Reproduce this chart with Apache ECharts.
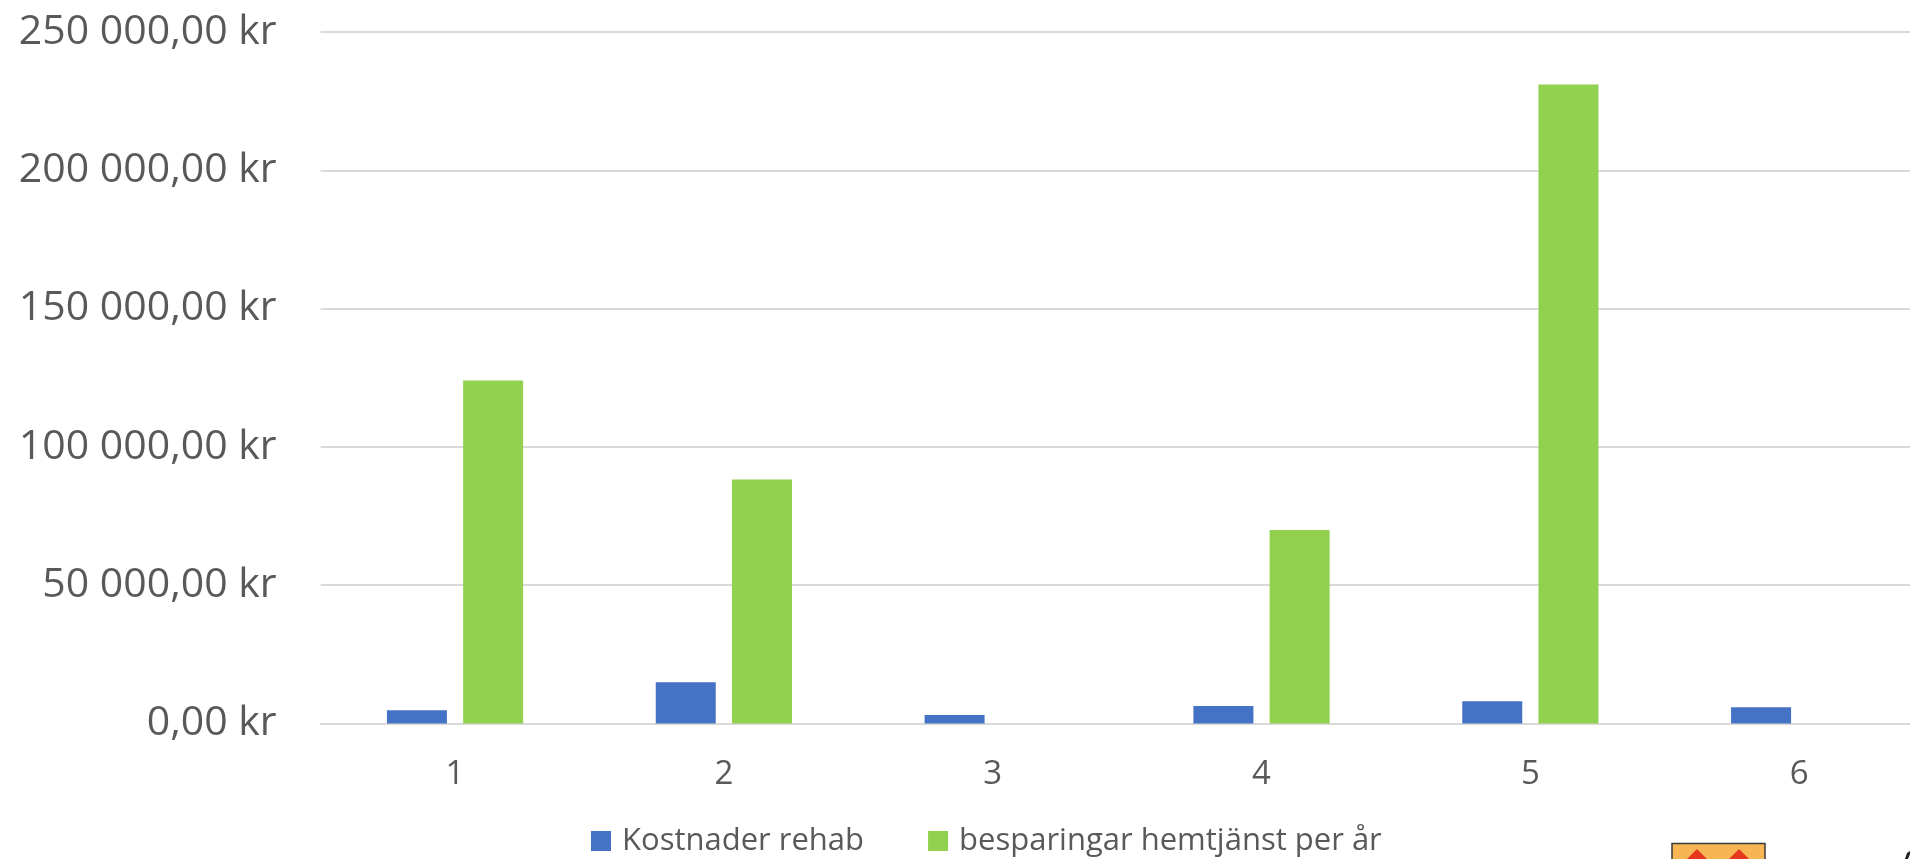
<!DOCTYPE html>
<html>
<head>
<meta charset="utf-8">
<style>
  html, body { margin: 0; padding: 0; background: #ffffff; }
  #chart { width: 1910px; height: 859px; }
</style>
<script src="https://cdn.jsdelivr.net/npm/echarts@6/dist/echarts.min.js"></script>
</head>
<body>
<div id="chart"></div>
<script>
// Data
const categories = ['1', '2', '3', '4', '5', '6'];
const kostnaderRehab = [4800, 14900, 3100, 6300, 8000, 5900];
const besparingarHemtjanst = [124000, 88200, 0, 70000, 231000, 0];
const seriesNames = ['Kostnader rehab', 'besparingar hemtjänst per år'];
const yTicks = { min: 0, max: 250000, interval: 50000 };

function formatKr(v) {
  const intPart = Math.round(v).toString().replace(/\B(?=(\d{3})+(?!\d))/g, ' ');
  return intPart + ',00 kr';
}

const chart = echarts.init(document.getElementById('chart'), null, { renderer: 'canvas' });
const FONT = '"Open Sans", "Noto Sans", sans-serif';

chart.setOption({
  animation: false,
  backgroundColor: '#ffffff',
  grid: { left: 320.6, width: 1613, top: 32, bottom: 135.5, containLabel: false, outerBoundsMode: 'none' },
  legend: {
    left: 591,
    top: 821,
    padding: 0,
    itemWidth: 20,
    itemHeight: 20,
    itemGap: 64,
    icon: 'rect',
    textStyle: { fontFamily: FONT, fontSize: 31, color: '#595959', padding: [0, 0, 0, 6], lineHeight: 40 },
    data: seriesNames
  },
  xAxis: {
    type: 'category',
    data: categories,
    axisLine: { show: true, lineStyle: { color: '#d9d9d9', width: 2 } },
    axisTick: { show: false },
    axisLabel: { fontFamily: FONT, fontSize: 33, color: '#595959', margin: 35 },
    splitLine: { show: false }
  },
  yAxis: {
    type: 'value',
    min: yTicks.min,
    max: yTicks.max,
    interval: yTicks.interval,
    axisLine: { show: false },
    axisTick: { show: false },
    axisLabel: { fontFamily: FONT, fontSize: 41, color: '#595959', margin: 44, formatter: formatKr },
    splitLine: { show: true, lineStyle: { color: '#d9d9d9', width: 2 } }
  },
  series: [
    {
      name: seriesNames[0],
      type: 'bar',
      data: kostnaderRehab,
      barWidth: 60,
      barGap: '27%',
      itemStyle: { color: '#4472C4' }
    },
    {
      name: seriesNames[1],
      type: 'bar',
      data: besparingarHemtjanst,
      barWidth: 60,
      barGap: '27%',
      itemStyle: { color: '#92D050' }
    }
  ],
  graphic: [
    { type: 'rect', shape: { x: 1672, y: 843.5, width: 93, height: 30 }, style: { fill: '#F8B554', stroke: '#3a3a3a', lineWidth: 1.5 }, z: 10 },
    { type: 'polygon', shape: { points: [[1687, 859], [1697, 849], [1707, 859]] }, style: { fill: '#E5381E' }, z: 11 },
    { type: 'polygon', shape: { points: [[1729, 859], [1739, 849], [1749, 859]] }, style: { fill: '#E5381E' }, z: 11 },
    { type: 'polygon', shape: { points: [[1905, 859], [1907, 853], [1910, 851], [1910, 854], [1908, 859]] }, style: { fill: '#222222' }, z: 11 }
  ]
});
</script>
</body>
</html>
